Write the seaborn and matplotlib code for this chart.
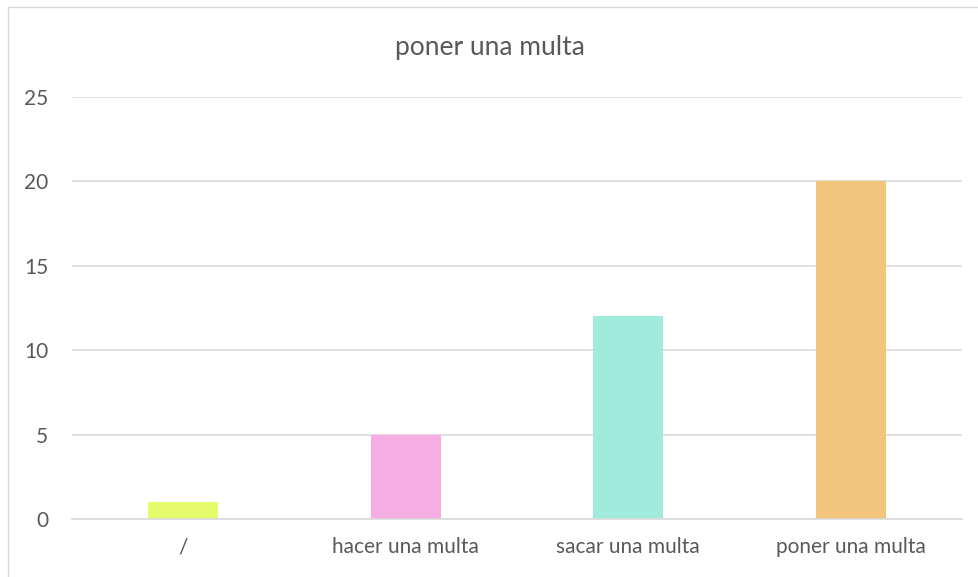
import matplotlib
matplotlib.use("Agg")
import matplotlib.pyplot as plt
import seaborn as sns
import pandas as pd
from matplotlib.lines import Line2D

categories = ["/", "hacer una multa", "sacar una multa", "poner una multa"]
values = [1, 5, 12, 20]
colors = ["#E5FB6B", "#F6ADE4", "#A0EBDB", "#F3C47B"]
yticks = [0, 5, 10, 15, 20, 25]
title = "poner una multa"

sns.set_theme(style="white")
plt.rcParams["font.family"] = ["Lato", "DejaVu Sans"]

df = pd.DataFrame({"cat": categories, "val": values})

fig = plt.figure(figsize=(9.79, 5.77), dpi=100)
ax = fig.add_axes([72 / 979, 1 - 519 / 577, 890 / 979, 422 / 577])

sns.barplot(data=df, x="cat", y="val", hue="cat", palette=colors,
            width=0.315, legend=False, ax=ax, saturation=1, linewidth=0)

ax.set_ylim(0, 25)
ax.set_yticks(yticks)
ax.set_xlim(-0.5, len(categories) - 0.5)
ax.yaxis.grid(True, color="#D9D9D9", linewidth=1.2)
ax.set_axisbelow(True)
for s in ["top", "right", "left"]:
    ax.spines[s].set_visible(False)
ax.spines["bottom"].set_color("#D9D9D9")
ax.spines["bottom"].set_linewidth(1.2)
ax.tick_params(axis="both", length=0, labelsize=15, colors="#595959")
ax.tick_params(axis="x", pad=13)
ax.tick_params(axis="y", pad=17)
ax.set_xlabel("")
ax.set_ylabel("")

fig.text(0.5, 1 - 47 / 577, title, ha="center", va="center",
         fontsize=19, color="#595959")

# chart frame (top and left edges visible)
fig.add_artist(Line2D([8 / 979, 1], [1 - 7 / 577, 1 - 7 / 577],
                      transform=fig.transFigure, color="#D9D9D9", linewidth=1))
fig.add_artist(Line2D([8 / 979, 8 / 979], [0, 1 - 7 / 577],
                      transform=fig.transFigure, color="#D9D9D9", linewidth=1))

fig.savefig("out.png", dpi=100)
